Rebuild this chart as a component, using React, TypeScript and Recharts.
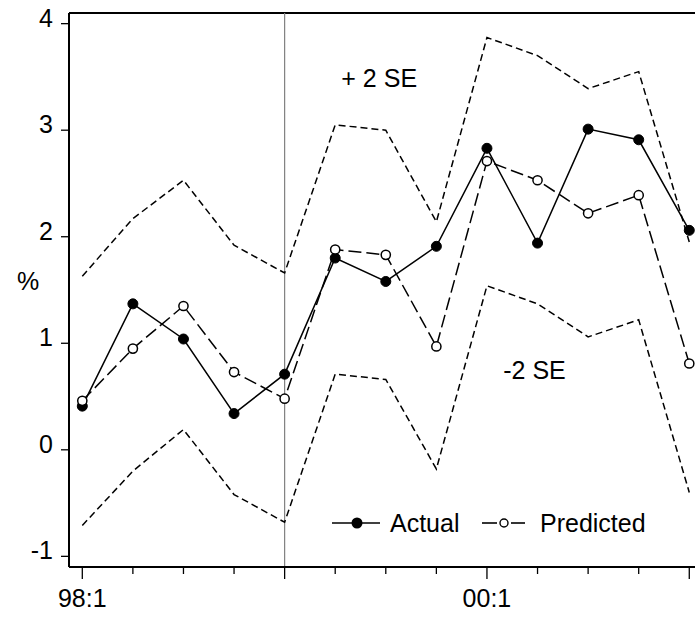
import React from 'react';
import { LineChart, Line, XAxis, YAxis, ReferenceLine, ReferenceDot } from 'recharts';

const periods = ['98:1', '98:2', '98:3', '98:4', '99:1', '99:2', '99:3', '99:4', '00:1', '00:2', '00:3', '00:4', '01:1'];
const labeledPeriods = ['98:1', '00:1'];
const actual = [0.41, 1.37, 1.04, 0.34, 0.71, 1.8, 1.58, 1.91, 2.83, 1.94, 3.01, 2.91, 2.06];
const predicted = [0.46, 0.95, 1.35, 0.73, 0.48, 1.88, 1.83, 0.97, 2.71, 2.53, 2.22, 2.39, 0.81];
const upper = [1.63, 2.17, 2.53, 1.92, 1.66, 3.05, 3.0, 2.14, 3.87, 3.7, 3.39, 3.55, 1.95];
const lower = [-0.71, -0.2, 0.19, -0.42, -0.68, 0.71, 0.66, -0.18, 1.54, 1.37, 1.06, 1.22, -0.4];
const yTicks = [-1, 0, 1, 2, 3, 4];

const FONT = '"Liberation Sans", Arial, sans-serif';

const data = periods.map((p, i) => ({
  i,
  period: p,
  actual: actual[i],
  predicted: predicted[i],
  upper: upper[i],
  lower: lower[i],
}));

function XTick({ x, y, payload }: any) {
  const i = payload.value;
  const major = i % 4 === 0;
  const label = labeledPeriods.includes(periods[i]) ? periods[i] : null;
  return (
    <g>
      <line x1={x} x2={x} y1={y} y2={y + (major ? 12 : 7)} stroke="#000" strokeWidth={1.3} />
      {label && (
        <text x={x} y={y + 40} textAnchor="middle" fontSize={25} fontFamily={FONT} fill="#000">
          {label}
        </text>
      )}
    </g>
  );
}

function YTick({ x, y, payload }: any) {
  return (
    <g>
      <line x1={x - 8} x2={x} y1={y} y2={y} stroke="#000" strokeWidth={1.3} />
      <text x={x - 16} y={y + 3} textAnchor="end" fontSize={25} fontFamily={FONT} fill="#000">
        {payload.value}
      </text>
    </g>
  );
}

const filledDot = (p: any) => (
  <circle key={'a' + p.index} cx={p.cx} cy={p.cy} r={5} fill="#000" stroke="#000" strokeWidth={1} />
);
const openDot = (p: any) => (
  <circle key={'p' + p.index} cx={p.cx} cy={p.cy} r={4.6} fill="#fff" stroke="#000" strokeWidth={1.5} />
);

const bandLabel = (text: string) => (props: any) => {
  const { x, y, width, height } = props.viewBox;
  return (
    <text x={x + width / 2} y={y + height / 2 + 9} textAnchor="middle" fontSize={25} fontFamily={FONT} fill="#000">
      {text}
    </text>
  );
};

function ChartLegend() {
  return (
    <svg width={695} height={617} style={{ position: 'absolute', left: 0, top: 0, pointerEvents: 'none' }}>
      <line x1={332} x2={380} y1={523} y2={523} stroke="#000" strokeWidth={1.6} />
      <circle cx={357} cy={523} r={5.5} fill="#000" />
      <text x={390} y={532} fontSize={25} fontFamily={FONT} fill="#000">Actual</text>
      <line x1={482} x2={497} y1={523} y2={523} stroke="#000" strokeWidth={1.6} />
      <circle cx={504} cy={523} r={4} fill="#fff" stroke="#000" strokeWidth={1.4} />
      <line x1={511} x2={525} y1={523} y2={523} stroke="#000" strokeWidth={1.6} />
      <text x={540} y={532} fontSize={25} fontFamily={FONT} fill="#000">Predicted</text>
    </svg>
  );
}

export default function App() {
  return (
    <div
      style={{
        position: 'fixed',
        left: 0,
        top: 0,
        width: 695,
        height: 617,
        overflow: 'hidden',
        background: '#fff',
      }}
    >
      <LineChart width={720} height={617} data={data} margin={{ top: 13, right: 20, bottom: 0, left: 0 }}>
        <XAxis
          dataKey="i"
          type="number"
          domain={[-0.263, 12.212]}
          ticks={periods.map((_, i) => i)}
          interval={0}
          height={50}
          tickSize={0}
          tickMargin={0}
          tick={<XTick />}
          axisLine={{ stroke: '#000', strokeWidth: 2 }}
          allowDataOverflow
        />
        <YAxis
          type="number"
          domain={[-1.1, 4.1]}
          ticks={yTicks}
          interval={0}
          width={69}
          tickSize={0}
          tickMargin={0}
          tick={<YTick />}
          axisLine={{ stroke: '#000', strokeWidth: 2 }}
          allowDataOverflow
          label={(props: any) => (
            <text x={28} y={290} textAnchor="middle" fontSize={25} fontFamily={FONT} fill="#000">
              %
            </text>
          )}
        />
        <ReferenceLine y={4.1} stroke="#000" strokeWidth={2} />
        <ReferenceLine x={4} stroke="#808080" strokeWidth={1.2} />
        <Line
          dataKey="upper"
          stroke="#000"
          strokeWidth={1.5}
          strokeDasharray="7 4"
          dot={false}
          isAnimationActive={false}
          type="linear"
        />
        <Line
          dataKey="lower"
          stroke="#000"
          strokeWidth={1.5}
          strokeDasharray="7 4"
          dot={false}
          isAnimationActive={false}
          type="linear"
        />
        <Line
          dataKey="actual"
          name="Actual"
          stroke="#000"
          strokeWidth={1.5}
          dot={filledDot}
          isAnimationActive={false}
          type="linear"
        />
        <Line
          dataKey="predicted"
          name="Predicted"
          stroke="#000"
          strokeWidth={1.5}
          strokeDasharray="13 5"
          dot={openDot}
          isAnimationActive={false}
          type="linear"
        />
        <ReferenceDot x={5.87} y={3.49} r={0} fill="none" stroke="none" label={bandLabel('+ 2 SE')} />
        <ReferenceDot x={8.94} y={0.75} r={0} fill="none" stroke="none" label={bandLabel('-2 SE')} />
      </LineChart>
      <ChartLegend />
    </div>
  );
}
